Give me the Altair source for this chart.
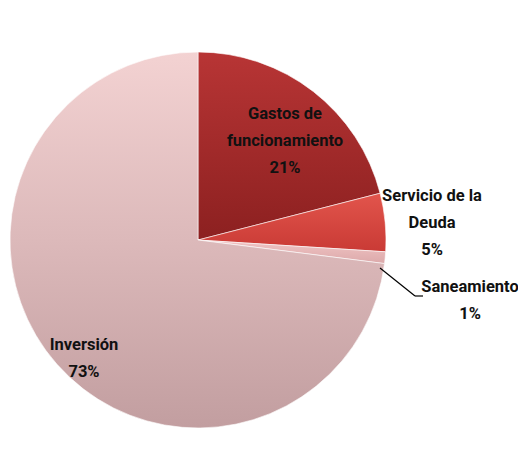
import altair as alt
import pandas as pd

categories = ["Gastos de funcionamiento", "Servicio de la Deuda", "Saneamiento", "Inversión"]
values = [21, 5, 1, 73]
order = [1, 2, 3, 4]
label_lines = [["Gastos de", "funcionamiento", "21%"],
               ["Servicio de la", "Deuda", "5%"],
               ["Saneamiento", "1%"],
               ["Inversión", "73%"]]

df = pd.DataFrame({"cat": categories, "value": values, "order": order,
                   "label": label_lines})

fills = {
    "Gastos de funcionamiento": {"gradient": "linear", "x1": 0, "y1": 0, "x2": 0, "y2": 1,
                                 "stops": [{"offset": 0, "color": "#b83535"},
                                           {"offset": 1, "color": "#8c2020"}]},
    "Servicio de la Deuda": {"gradient": "linear", "x1": 0, "y1": 0, "x2": 0, "y2": 1,
                             "stops": [{"offset": 0, "color": "#e2554c"},
                                       {"offset": 1, "color": "#c93a35"}]},
    "Saneamiento": {"gradient": "linear", "x1": 0, "y1": 0, "x2": 0, "y2": 1,
                    "stops": [{"offset": 0, "color": "#f0c4c4"},
                              {"offset": 1, "color": "#dca9aa"}]},
    "Inversión": {"gradient": "linear", "x1": 0, "y1": 0, "x2": 0, "y2": 1,
                  "stops": [{"offset": 0, "color": "#f3d2d2"},
                            {"offset": 0.5, "color": "#dcb9ba"},
                            {"offset": 1, "color": "#c29ea0"}]},
}

CX, CY, R = 188, 232, 188
theta_scale = alt.Scale(domain=[0, 100])

base = alt.Chart(df).transform_window(
    cum="sum(value)", sort=[alt.SortField("order")]
).transform_calculate(
    start="datum.cum - datum.value",
    mid="datum.cum - datum.value / 2"
)

layers = []
for c in categories:
    layers.append(
        base.transform_filter(alt.datum.cat == c).mark_arc(
            radius=R, fill=fills[c], stroke="#ffffff", strokeWidth=0.6
        ).encode(
            theta=alt.Theta("start:Q", scale=theta_scale),
            theta2="cum:Q",
            x=alt.value(CX), y=alt.value(CY)
        )
    )

label_pos = {
    "Gastos de funcionamiento": dict(dx=87, dy=-134),
    "Servicio de la Deuda": dict(dx=234, dy=-52),
    "Saneamiento": dict(dx=272, dy=39),
    "Inversión": dict(dx=-114, dy=97),
}
for c in categories:
    p = label_pos[c]
    layers.append(
        base.transform_filter(alt.datum.cat == c).mark_text(
            font="Roboto", fontSize=16.5, fontWeight="bold",
            color="#111111", lineHeight=27, align="center", baseline="top",
            dx=p["dx"], dy=p["dy"]
        ).encode(
            text="label", x=alt.value(CX), y=alt.value(CY)
        )
    )

leader = alt.Chart(df.head(1)).mark_rule(color="#000000", strokeWidth=1.2).encode(
    x=alt.value(370), y=alt.value(260), x2=alt.value(405), y2=alt.value(288)
)
leader2 = alt.Chart(df.head(1)).mark_rule(color="#000000", strokeWidth=1.2).encode(
    x=alt.value(405), y=alt.value(288), x2=alt.value(413), y2=alt.value(288)
)
layers += [leader, leader2]

chart = alt.layer(*layers).properties(
    width=510, height=452,
    autosize=alt.AutoSizeParams(type="fit", contains="padding"),
    padding=0
).configure_view(stroke=None)

chart.save("out.html", embed_options={"renderer": "svg", "actions": False})
